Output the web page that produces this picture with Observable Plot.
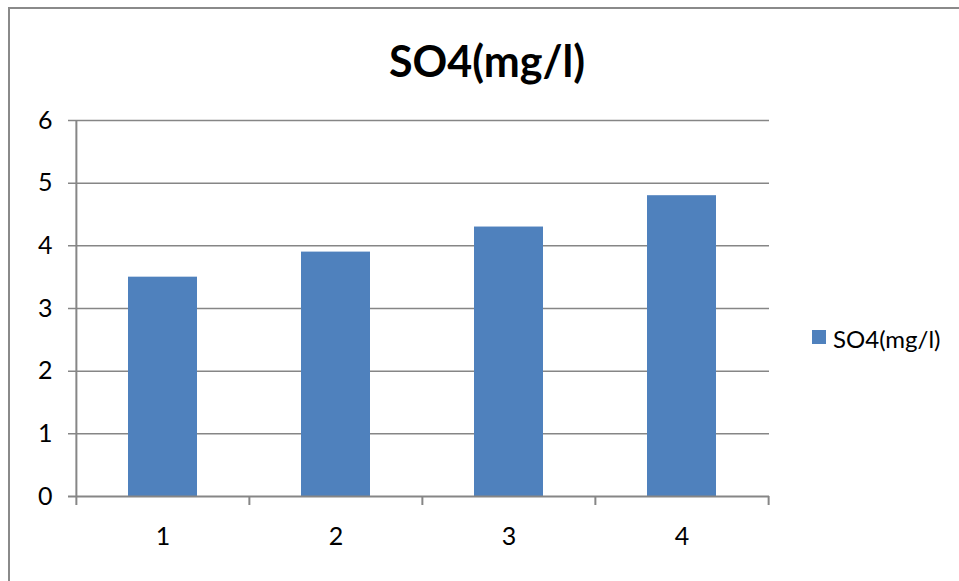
<!DOCTYPE html>
<html>
<head>
<meta charset="utf-8">
<script src="https://cdn.jsdelivr.net/npm/d3@7"></script>
<script src="https://cdn.jsdelivr.net/npm/@observablehq/plot@0.6"></script>
<style>
  html, body { margin: 0; padding: 0; background: #fff; }
  #chart { position: relative; width: 959px; height: 581px; overflow: hidden; background: #fff; font-family: Lato, sans-serif; }
  #frame { position: absolute; left: 8px; top: 7px; width: 1000px; height: 700px; border: 2px solid #8a8a8a; box-sizing: border-box; }
  #plot { position: absolute; left: 0; top: 0; }
  #title { position: absolute; left: 487px; top: 39px; transform: translateX(-50%); font-size: 43px; line-height: 43px; font-weight: bold; color: #000; white-space: nowrap; }
  #legend-swatch { position: absolute; left: 812px; top: 330px; width: 14px; height: 14px; }
  #legend-label { position: absolute; left: 833px; top: 327px; font-size: 24px; line-height: 24px; color: #000; white-space: nowrap; }
</style>
</head>
<body>
<div id="chart">
  <div id="frame"></div>
  <div id="plot"></div>
  <div id="title"></div>
  <div id="legend-swatch"></div>
  <div id="legend-label"></div>
</div>
<script>
// Sulphate readings per sample
const seriesName = "SO4(mg/l)";
const categories = ["1", "2", "3", "4"];
const values = [3.5, 3.9, 4.3, 4.8];
const yTicks = [0, 1, 2, 3, 4, 5, 6];

const barColor = "#4F81BD";
const lineColor = "#868686";

const width = 959, height = 581;
const margin = {left: 76, right: 190, top: 120, bottom: 85};
// width of one category slot, used to place the boundary ticks
const step = (width - margin.left - margin.right) / categories.length;

const data = categories.map((c, i) => ({category: c, value: values[i]}));

const chart = Plot.plot({
  width, height,
  marginLeft: margin.left, marginRight: margin.right,
  marginTop: margin.top, marginBottom: margin.bottom,
  style: {fontFamily: "Lato, sans-serif", fontSize: "25px", color: "#000", background: "transparent"},
  x: {domain: categories, paddingInner: 0.6, paddingOuter: 0.3, axis: null},
  y: {domain: [0, 6], axis: null},
  marks: [
    // horizontal gridlines, with the short outward tick on the left
    Plot.ruleY(yTicks.filter(v => v > 0), {stroke: lineColor, strokeWidth: 1.5, insetLeft: -8}),
    Plot.barY(data, {x: "category", y: "value", fill: barColor}),
    // category axis line
    Plot.ruleY([0], {stroke: lineColor, strokeWidth: 2, insetLeft: -8}),
    // value axis line
    Plot.ruleX([categories[0]], {dx: -step / 2, y1: 0, y2: 6, stroke: lineColor, strokeWidth: 2}),
    // tick marks on the boundaries between categories
    Plot.ruleX(categories, {dx: -step / 2, y1: 0, y2: 0, insetBottom: -9, stroke: lineColor, strokeWidth: 2}),
    Plot.ruleX([categories[categories.length - 1]], {dx: step / 2, y1: 0, y2: 0, insetBottom: -9, stroke: lineColor, strokeWidth: 2}),
    // value labels
    Plot.text(yTicks, {y: d => d, frameAnchor: "left", dx: -24, textAnchor: "end", fill: "#000"}),
    // category labels
    Plot.text(categories, {x: d => d, frameAnchor: "bottom", dy: 48, fill: "#000"})
  ]
});

document.getElementById("plot").appendChild(chart);
document.getElementById("title").textContent = seriesName;
document.getElementById("legend-label").textContent = seriesName;
document.getElementById("legend-swatch").style.background = barColor;
</script>
</body>
</html>
